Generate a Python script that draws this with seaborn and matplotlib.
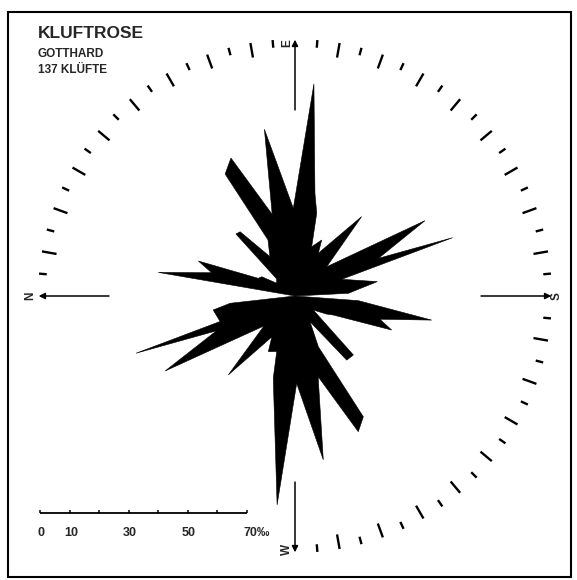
import numpy as np
import matplotlib
matplotlib.use("Agg")
import matplotlib.pyplot as plt
from matplotlib.patches import Rectangle
import seaborn as sns

# outline of the joint rose (bearing in deg, length in per mille)
rose_bearing = [0, 9.8, 15.6, 19.9, 25.7, 30.1, 34.8, 43.0, 46.4, 49.5, 57.5, 64.3,
                60.2, 65.1, 74.4, 79.6, 88.9, 95.1, 101.0, 104.7, 108.7, 115.5, 118.6,
                130.0, 137.3, 149.9, 155.7, 159.7, 160.3, 170.1, 177.1,
                180, 184.2, 190.0, 195.3, 199.4, 206.4, 210.0, 217.4, 225.3, 231.1,
                239.7, 245.3, 240.5, 245.0, 254.0, 260.2, 268.9, 274.9, 284.8, 288.2,
                295.6, 299.5, 310.2, 316.0, 330.0, 336.1, 340.2, 341.2, 350.3, 353.6, 360]
rose_permille = [0, 47.0, 29.3, 34.8, 13.8, 13.0, 7.6, 8.5, 29.0, 28.6, 15.8, 21.1,
                 47.6, 51.5, 28.7, 57.4, 29.7, 72.1, 35.4, 29.0, 17.6, 21.0, 16.5,
                 35.1, 14.6, 50.9, 31.0, 56.9, 16.8, 28.3, 18.1,
                 0, 21.5, 47.0, 29.8, 34.7, 14.5, 12.2, 7.8, 28.1, 27.9,
                 10.1, 18.9, 47.0, 50.7, 28.4, 56.3, 29.6, 71.0, 28.8, 19.8,
                 20.9, 15.9, 35.0, 14.6, 50.8, 29.1, 57.2, 26.8, 28.1, 22.1, 0]

cardinal_deg = [0, 90, 180, 270]
cardinal_lab = ["N", "E", "S", "W"]
label_deg = [0, 88.2, 180, 271.9]
label_r = [89.7, 85.7, 88.6, 86.0]

scale_ticks = [0, 10, 20, 30, 40, 50, 60, 70]
scale_labels = ["0", "10", "30", "50", "70‰"]
scale_label_pos = [0, 10, 30, 50, 70]

title = "KLUFTROSE"
subtitle = ["GOTTHARD", "137 KLÜFTE"]

sns.set_theme(style="white")
plt.rcParams['font.family'] = ['Liberation Sans', 'DejaVu Sans']

px_per_permille = 2.953
fig = plt.figure(figsize=(5.77, 5.80), dpi=100)
fig.patch.set_facecolor("white")

# polar axes centred on the rose, radius 280 px
ax = fig.add_axes([15 / 577, 4 / 580, 560 / 577, 560 / 580], projection="polar")
ax.set_theta_zero_location("W")
ax.set_theta_direction(-1)
ax.set_ylim(0, 280 / px_per_permille)
ax.axis("off")

ax.fill(np.deg2rad(rose_bearing), rose_permille, color="black", lw=0.4)

# tick ring every 5 deg (longer every 10 deg), left out where the scale bar sits
tick_deg = [d for d in range(5, 270, 5) if d % 90]
long_ticks = [d for d in tick_deg if d % 10 == 0]
short_ticks = [d for d in tick_deg if d % 10]
ax.vlines(np.deg2rad(long_ticks), 82.0, 87.0, color="black", lw=1.7)
ax.vlines(np.deg2rad(short_ticks), 84.4, 87.0, color="black", lw=1.7)

for b, lab, lb, lr in zip(cardinal_deg, cardinal_lab, label_deg, label_r):
    ax.annotate("", xy=(np.deg2rad(b), 86.8), xytext=(np.deg2rad(b), 63.0),
                arrowprops=dict(arrowstyle="-|>", color="black", lw=1.1,
                                mutation_scale=9, shrinkA=0, shrinkB=0))
    ax.text(np.deg2rad(lb), lr, lab, rotation=90, ha="center", va="center",
            fontsize=8.5, fontweight="bold")

# scale bar
ax2 = fig.add_axes([40 / 577, 40 / 580, 206.7 / 577, 40 / 580])
ax2.set_xlim(0, 70)
ax2.set_ylim(0, 1)
ax2.axis("off")
ax2.hlines(0.675, scale_ticks[0], scale_ticks[-1], color="black", lw=1.3, clip_on=False)
ax2.vlines(scale_ticks, 0.675, 0.76, color="black", lw=1.1, clip_on=False)
for v, lab in zip(scale_label_pos, scale_labels):
    if lab.endswith("‰"):
        ax2.text(v - 1.0, 0.1, lab, ha="left", va="baseline", fontsize=9, fontweight="bold")
    else:
        ax2.text(v + 0.5, 0.1, lab, ha="center", va="baseline", fontsize=9, fontweight="bold")

fig.text(38 / 577, (580 - 38) / 580, title, fontsize=12.5, fontweight="bold", va="baseline")
fig.text(38 / 577, (580 - 57.3) / 580, subtitle[0], fontsize=8.5, fontweight="bold", va="baseline")
fig.text(38 / 577, (580 - 73.3) / 580, subtitle[1], fontsize=8.5, fontweight="bold", va="baseline")

fig.add_artist(Rectangle((7.5 / 577, 3 / 580), 563.5 / 577, 565.5 / 580,
                         transform=fig.transFigure, fill=False, lw=1.5, color="black"))

fig.savefig("out.png", dpi=100)
